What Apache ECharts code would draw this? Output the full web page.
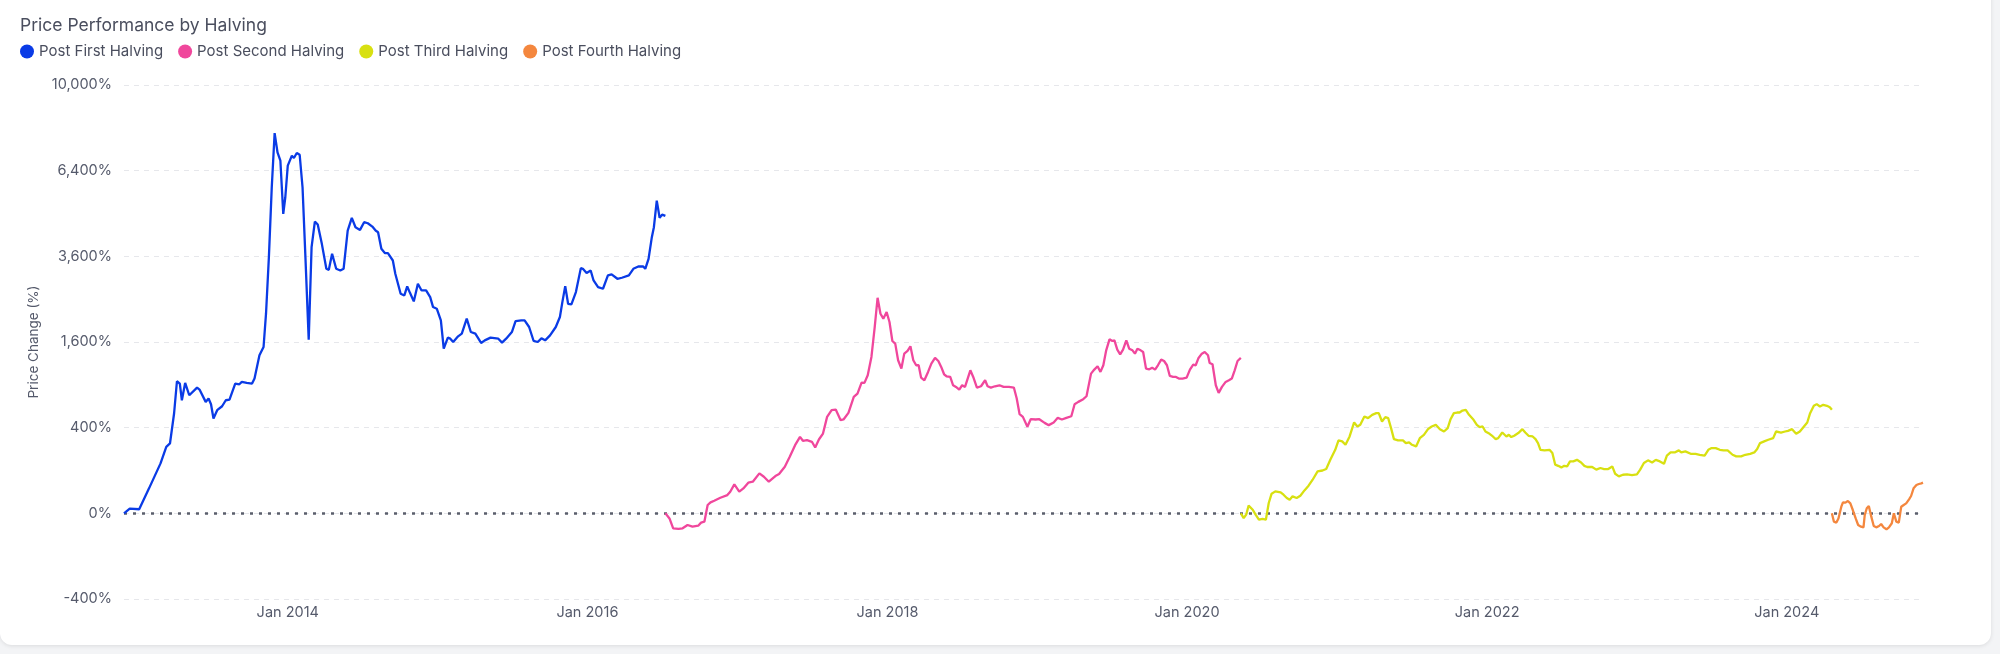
<!DOCTYPE html>
<html>
<head>
<meta charset="utf-8">
<script src="https://cdn.jsdelivr.net/npm/echarts@6/dist/echarts.min.js"></script>
<style>
  html, body { margin: 0; padding: 0; background: #f3f4f6; width: 2000px; height: 654px; overflow: hidden; }
  #card { position: absolute; left: 0; top: -14px; width: 1991px; height: 659px; background: #fff; border-radius: 12px; box-shadow: 0 1px 4px rgba(0,0,0,0.10); }
  #chart { position: absolute; left: 0; top: 0; width: 2000px; height: 654px; }
</style>
</head>
<body>
<div id="card"></div>
<div id="chart"></div>
<script>
// ---- DATA ----
const seriesNames = ['Post First Halving', 'Post Second Halving', 'Post Third Halving', 'Post Fourth Halving'];
const halvingDates = ['2012-11-28', '2016-07-09', '2020-05-11', '2024-04-20'];
const yTickValues = [-400, 0, 400, 1600, 3600, 6400, 10000];
const xLabelYears = [2014, 2016, 2018, 2020, 2022, 2024];

// days since halving / price change (%)
const firstDays = [0,14,37,61,89,103,112,122,129,136,
  141,149,159,178,184,199,206,212,218,227,
  239,248,257,271,281,287,299,312,318,330,
  340,346,353,360,367,374,381,388,393,399,
  409,414,421,428,435,442,450,457,465,472,
  482,493,499,507,517,527,535,545,555,564,
  575,585,594,605,613,619,627,636,643,655,
  661,674,683,690,697,706,716,725,736,746,
  753,762,772,779,789,795,802,814,823,835,
  845,856,870,879,893,912,921,931,945,954,
  968,976,987,998,1008,1017,1026,1038,1052,1062,
  1068,1075,1082,1090,1101,1113,1118,1127,1137,1144,
  1155,1167,1179,1188,1202,1213,1230,1241,1253,1265,
  1270,1278,1286,1291,1298,1305,1311,1319];
const firstValues = [0,1.2,0.9,34,136,241,266,543,951,918,
  697,927,760,862,835,677,718,649,490,580,
  625,697,706,918,908,941,927,918,990,1361,
  1508,2172,3577,5794,7882,7102,6778,4886,5445,6588,
  6972,6881,7076,7009,5794,3577,1644,3861,4640,4545,
  3958,3259,3232,3670,3259,3214,3259,4359,4757,4461,
  4379,4619,4586,4481,4359,4307,3813,3689,3689,3484,
  3127,2628,2588,2806,2644,2448,2872,2708,2708,2549,
  2319,2282,2029,1478,1682,1663,1600,1707,1759,2065,
  1792,1759,1582,1631,1682,1663,1588,1663,1792,2015,
  2029,2029,1892,1619,1600,1669,1631,1727,1892,2100,
  2432,2814,2394,2379,2668,3277,3259,3150,3214,2956,
  2790,2749,3085,3111,2999,3025,3085,3259,3321,3321,
  3259,3531,4156,4461,5330,4757,4865,4822];

const secondDays = [0,10,19,32,42,54,66,80,87,95,
  103,110,119,134,151,158,168,180,190,202,
  213,229,240,252,268,277,291,303,316,328,
  335,345,357,365,374,384,394,405,415,427,
  434,446,459,468,478,485,493,502,510,517,
  524,531,539,546,553,560,567,575,582,590,
  597,604,611,617,623,631,640,648,657,665,
  672,679,685,694,701,708,716,723,730,743,
  750,759,769,779,785,793,803,814,824,837,
  849,856,863,871,882,890,902,911,924,934,
  946,956,966,977,989,997,1006,1018,1026,1037,
  1045,1053,1060,1067,1074,1082,1089,1094,1101,1108,
  1115,1123,1130,1138,1144,1150,1158,1164,1171,1179,
  1186,1193,1200,1208,1215,1222,1229,1237,1244,1251,
  1260,1270,1278,1286,1292,1299,1307,1314,1322,1326,
  1333,1341,1348,1356,1365,1373,1380,1387,1394,1402];
const secondValues = [0,-1.4,-12.2,-13.3,-12.2,-7.4,-9.7,-8.3,-4.7,-3.8,
  3.8,6.6,8.7,13.3,18.2,25.5,45.7,25.5,33.9,51.1,
  54.4,86.9,73,54.4,75.7,84,118,174,253,319,
  287,292,279,236,297,347,507,580,587,473,
  480,550,739,782,932,927,1039,1333,1892,2533,
  2172,2065,2208,1995,1619,1569,1277,1142,1390,1437,
  1520,1277,1195,1195,1004,965,1090,1222,1316,1265,
  1168,1054,1024,1014,894,871,835,894,871,1115,
  1014,862,880,965,880,862,880,894,871,871,
  862,718,536,507,408,483,480,483,446,424,
  450,497,480,497,514,649,677,710,747,1064,
  1126,1179,1090,1195,1448,1650,1619,1631,1460,1378,
  1460,1631,1478,1448,1390,1478,1448,1419,1142,1131,
  1157,1126,1195,1288,1265,1195,1029,1014,1014,990,
  990,1004,1126,1205,1195,1316,1390,1419,1361,1233,
  1211,894,791,871,941,965,990,1115,1265,1316];

const thirdDays = [0,7,13,19,29,36,44,53,61,68,
  75,84,97,104,112,119,126,136,145,155,
  165,175,187,199,208,218,230,238,247,255,
  265,276,284,291,301,310,320,330,336,344,
  352,359,366,373,383,395,402,410,417,427,
  436,446,456,465,475,485,495,504,511,519,
  527,533,540,548,556,567,575,582,589,596,
  606,614,621,627,637,647,653,659,666,676,
  686,693,701,711,718,724,730,740,752,759,
  766,773,781,788,795,802,810,819,829,837,
  844,856,866,876,885,895,905,912,921,931,
  941,953,965,973,982,992,1002,1011,1021,1031,
  1038,1047,1057,1067,1073,1083,1096,1108,1118,1130,
  1139,1147,1157,1167,1176,1186,1198,1207,1219,1229,
  1241,1251,1258,1265,1275,1285,1297,1304,1316,1326,
  1333,1343,1353,1362,1372,1380,1387,1396,1403,1411,
  1419,1428,1435,1440];
const thirdValues = [0,-1.2,-0.1,3.2,0.7,-0.1,-2.2,-1.7,-2.2,5.8,
  21,26.3,24,18.9,12.8,10.1,15.7,12.8,17,28.7,
  41.6,61.6,95.8,100,107,156,220,290,282,256,
  322,450,411,427,511,494,529,547,547,460,
  504,494,396,300,290,290,269,274,256,244,
  308,336,386,411,427,386,365,396,483,547,
  554,554,576,584,529,477,427,405,411,365,
  345,322,300,308,356,322,336,317,328,351,
  386,356,328,322,300,269,220,216,220,198,
  129,123,115,123,120,147,147,156,141,123,
  117,117,104,112,107,107,120,85.5,74.4,81.2,
  82.6,79.8,82.6,104,138,153,141,156,147,134,
  181,202,202,216,202,209,193,193,187,181,
  220,232,232,220,216,216,187,177,177,187,
  193,202,225,269,282,295,308,365,356,365,
  371,386,345,365,411,450,547,630,650,622,
  642,630,614,584];

const fourthDays = [0,5,11,16,23,27,33,39,45,51,
  58,64,71,77,80,85,90,96,102,108,
  115,120,126,133,139,146,151,157,163,169,
  175,181,188,193,199,206,212,218,222];
const fourthValues = [0,-3.8,-4.7,-1.4,2.4,6.6,6.2,8.3,5.4,0.6,
  -1.4,-7.4,-9.7,-10.7,-0.2,1.4,2.9,-0.6,-8.7,-10.7,
  -8.7,-6.2,-10.7,-13.9,-10.7,-5.4,0,-3.8,-4.7,2.4,
  3.8,5.4,10.7,16.4,34,43.7,46.9,49,51.2];

const colors = ['#0a3be6', '#f0479c', '#d8e011', '#f4873e'];

// ---- BUILD ----
const DAY = 86400000;
const toS = v => Math.sign(v) * Math.sqrt(Math.abs(v));       // signed square-root scale
const fromS = s => Math.sign(s) * Math.round(s * s);
function build(idx, days, values) {
  const base = Date.parse(halvingDates[idx] + 'T00:00:00Z');
  return days.map((d, i) => [base + d * DAY, toS(values[i])]);
}
const allDays = [firstDays, secondDays, thirdDays, fourthDays];
const allValues = [firstValues, secondValues, thirdValues, fourthValues];
const seriesData = allDays.map((d, i) => build(i, d, allValues[i]));

const xMin = seriesData[0][0][0];
const lastS = seriesData[3];
const xMax = lastS[lastS.length - 1][0];
const xLabelValues = xLabelYears.map(y => Date.UTC(y, 0, 1));
const yS = yTickValues.map(toS);

const FONT = 'Inter, "Noto Sans", sans-serif';
const labelColor = '#555a6b';

const chart = echarts.init(document.getElementById('chart'), null, { renderer: 'canvas' });
chart.setOption({
  animation: false,
  backgroundColor: 'transparent',
  textStyle: { fontFamily: FONT },
  title: {
    text: 'Price Performance by Halving',
    left: 15, top: 12,
    textStyle: { fontSize: 17.5, fontWeight: 'normal', color: '#4a4e5e', fontFamily: FONT }
  },
  legend: {
    left: 15, top: 39,
    icon: 'circle',
    itemWidth: 14, itemHeight: 14, itemGap: 15,
    textStyle: { fontSize: 15, color: '#4a4e5e', fontFamily: FONT },
    data: seriesNames
  },
  grid: { left: 124, right: 77, top: 85, bottom: 55, containLabel: false },
  xAxis: {
    type: 'value',
    min: xMin, max: xMax,
    axisLine: { show: false },
    axisTick: { show: false },
    splitLine: { show: false },
    axisLabel: {
      customValues: xLabelValues,
      formatter: v => 'Jan ' + new Date(v).getUTCFullYear(),
      color: labelColor, fontSize: 14.5, margin: 6, fontFamily: FONT
    }
  },
  yAxis: {
    type: 'value',
    min: yS[0], max: yS[yS.length - 1], interval: 20,
    name: 'Price Change (%)',
    nameLocation: 'middle',
    nameGap: 72,
    nameTextStyle: { color: labelColor, fontSize: 13.5, fontFamily: FONT },
    axisLine: { show: false },
    axisTick: { show: false },
    axisLabel: {
      formatter: s => fromS(s).toLocaleString('en-US') + '%',
      color: labelColor, fontSize: 14.5, margin: 12, fontFamily: FONT
    },
    splitLine: { show: true, lineStyle: { color: '#e6e7eb', type: [5, 5], width: 1 } }
  },
  series: seriesNames.map((name, i) => ({
    name,
    type: 'line',
    data: seriesData[i],
    showSymbol: false,
    symbol: 'circle',
    color: colors[i],
    lineStyle: { width: 2.3, color: colors[i] },
    z: 3,
    markLine: i === 0 ? {
      silent: true,
      symbol: ['none', 'none'],
      label: { show: false },
      lineStyle: { color: '#5b5f6c', type: [3, 6], width: 2.5 },
      data: [{ yAxis: 0 }],
      z: 1
    } : undefined
  }))
});
</script>
</body>
</html>
